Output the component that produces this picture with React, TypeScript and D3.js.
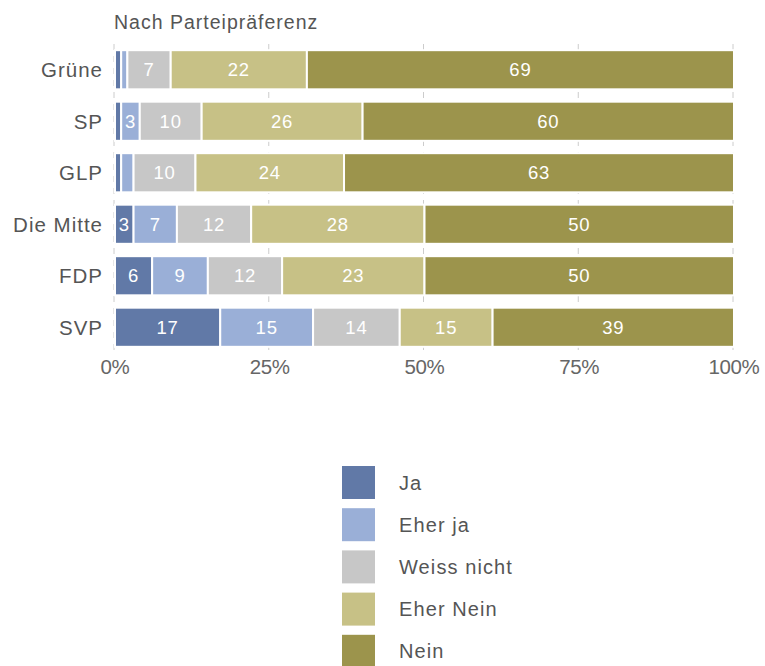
import React from "react";
import * as d3 from "d3";

const categories = ["Grüne", "SP", "GLP", "Die Mitte", "FDP", "SVP"];
const seriesNames = ["Ja", "Eher ja", "Weiss nicht", "Eher Nein", "Nein"];
const ja = [1, 1, 1, 3, 6, 17];
const eherJa = [1, 3, 2, 7, 9, 15];
const weissNicht = [7, 10, 10, 12, 12, 14];
const eherNein = [22, 26, 24, 28, 23, 15];
const nein = [69, 60, 63, 50, 50, 39];
const colors = ["#6179a7", "#9aafd7", "#c7c7c7", "#c7c186", "#9c944c"];
const tickValues = [0, 25, 50, 75, 100];
const title = "Nach Parteipräferenz";

const W = 765, H = 666;
const FONT = "'Liberation Sans', Arial, sans-serif";

export default function App() {
  const seriesValues = [ja, eherJa, weissNicht, eherNein, nein];
  const rows = categories.map((c, i) => {
    const o: any = { cat: c };
    seriesNames.forEach((s, k) => (o[s] = seriesValues[k][i]));
    return o;
  });
  const stacked = d3.stack().keys(seriesNames)(rows);
  const x = d3.scaleLinear().domain([0, 100]).range([115, 734]);
  const y = d3.scaleBand().domain(categories).range([44, 353]).paddingInner(0.24).paddingOuter(0.12);

  return (
    <div style={{ position: "absolute", left: 0, top: 0 }}>
      <svg width={W} height={H} style={{ display: "block", fontFamily: FONT }}>
        <rect width={W} height={H} fill="#fff" />
        <text x={114} y={29} fontSize={19.5} letterSpacing={1} fill="#555">{title}</text>
        {tickValues.map((t) => (
          <line key={t} x1={x(t) - 1} x2={x(t) - 1} y1={44} y2={353} stroke="#ccc" strokeWidth={1} strokeDasharray="6,6" />
        ))}
        {stacked.map((layer, k) => (
          <g key={layer.key}>
            {layer.map((d, i) => {
              const x0 = x(d[0]), x1 = x(d[1]);
              const v = d[1] - d[0];
              const yy = y(categories[i])!;
              return (
                <g key={i}>
                  <rect x={x0} y={yy} width={Math.max(0, x1 - x0)} height={y.bandwidth()} fill={colors[k]} stroke="#fff" strokeWidth={2} />
                  {v >= 3 && (
                    <text x={(x0 + x1) / 2} y={yy + y.bandwidth() / 2} dy="0.36em" textAnchor="middle" fontSize={18.5} letterSpacing={0.8} fill="#fff">{v}</text>
                  )}
                </g>
              );
            })}
          </g>
        ))}
        {categories.map((c) => (
          <text key={c} x={103} y={y(c)! + y.bandwidth() / 2} dy="0.36em" textAnchor="end" fontSize={20.5} letterSpacing={1} fill="#555">{c}</text>
        ))}
        {tickValues.map((t) => (
          <text key={t} x={x(t)} y={374} textAnchor="middle" fontSize={20.5} letterSpacing={-0.4} fill="#666">{t}%</text>
        ))}
        {seriesNames.map((s, k) => (
          <g key={s} transform={`translate(342, ${466 + k * 42.2})`}>
            <rect width={33} height={33} fill={colors[k]} />
            <text x={57} y={16.5} dy="0.36em" fontSize={20} letterSpacing={1.1} fill="#555">{s}</text>
          </g>
        ))}
      </svg>
    </div>
  );
}
